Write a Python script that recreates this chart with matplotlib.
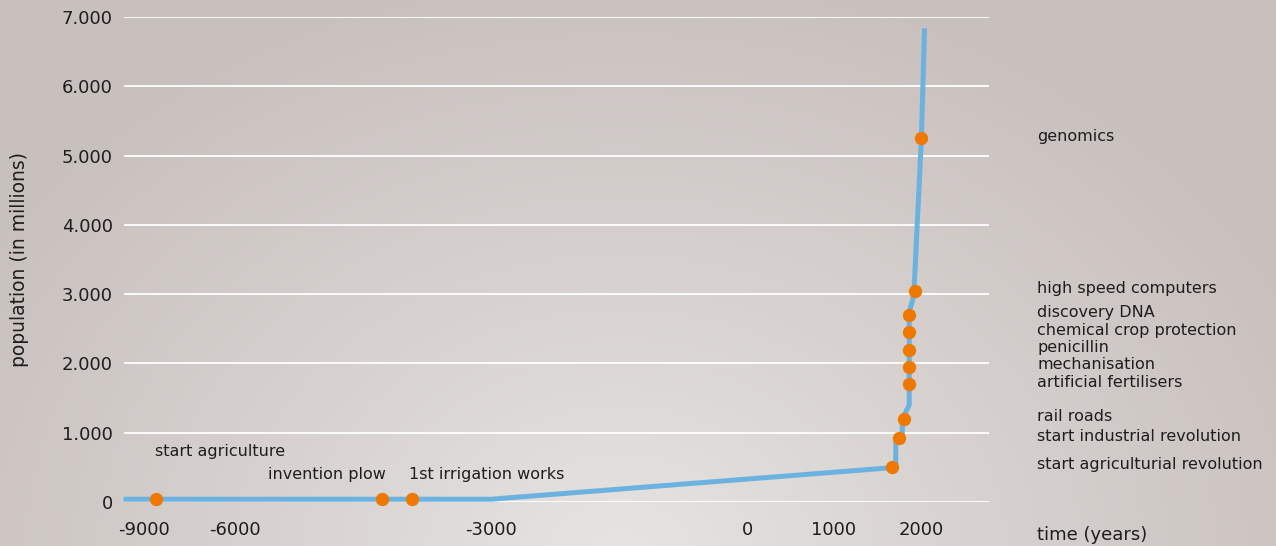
import numpy as np
import matplotlib
matplotlib.use("Agg")
import matplotlib.pyplot as plt
from matplotlib.ticker import FixedLocator, FuncFormatter
from matplotlib.transforms import blended_transform_factory

plt.rcParams["font.family"] = ["DejaVu Sans"]

# ---- data -------------------------------------------------------------
# world population curve (year, millions)
curve_years = [-9600, -3000, 1710, 1710, 1785, 1785, 1865, 1865, 1905, 1920, 2005, 2040]
curve_pop = [40, 40, 500, 920, 920, 1200, 1400, 2750, 2915, 3050, 5250, 6800]

# milestones (year, millions, label)
event_years = [-8600, -4270, -3920, 1670, 1745, 1810, 1865, 1865, 1865, 1865, 1865, 1930, 2005]
event_pop = [40, 40, 40, 505, 920, 1200, 1700, 1950, 2200, 2450, 2700, 3050, 5250]
event_labels = [
    "start agriculture", "invention plow", "1st irrigation works",
    "start agriculturial revolution", "start industrial revolution", "rail roads",
    "artificial fertilisers", "mechanisation", "penicillin",
    "chemical crop protection", "discovery DNA", "high speed computers", "genomics",
]

x_tick_years = [-9000, -6000, -3000, 0, 1000, 2000]
x_tick_labels = ["-9000", "-6000", "-3000", "0", "1000", "2000"]
y_ticks = [0, 1000, 2000, 3000, 4000, 5000, 6000, 7000]

# ---- compressed time axis (piecewise linear between tick years) -------
axis_spacing = np.array([0.0, 90.5, 347.0, 603.5, 690.0, 777.0])
axis_years = np.array(x_tick_years, dtype=float)


def _piecewise(v, src, dst):
    v = np.asarray(v, dtype=float)
    out = np.interp(v, src, dst)
    lo = v < src[0]
    hi = v > src[-1]
    out = np.where(lo, dst[0] + (v - src[0]) * (dst[1] - dst[0]) / (src[1] - src[0]), out)
    out = np.where(hi, dst[-1] + (v - src[-1]) * (dst[-1] - dst[-2]) / (src[-1] - src[-2]), out)
    return out


def fwd(v):
    return _piecewise(v, axis_years, axis_spacing)


def inv(v):
    return _piecewise(v, axis_spacing, axis_years)


# ---- figure -------------------------------------------------------------
W, H, DPI = 1276, 546, 100
fig = plt.figure(figsize=(W / DPI, H / DPI), dpi=DPI)

# soft radial background
bg = fig.add_axes([0, 0, 1, 1], zorder=0)
yy, xx = np.mgrid[0:H, 0:W]
d = np.sqrt(((xx - 620) / 760.0) ** 2 + ((yy - 560) / 600.0) ** 2)
t = np.clip(d, 0, 1) ** 0.9
inner = np.array([231, 229, 228]) / 255.0
outer = np.array([200, 192, 189]) / 255.0
img = inner[None, None, :] * (1 - t[..., None]) + outer[None, None, :] * t[..., None]
bg.imshow(img, aspect="auto", extent=[0, 1, 0, 1], origin="upper")
bg.axis("off")

ax = fig.add_axes([124 / W, 1 - 502 / H, (989 - 124) / W, (502 - 17) / H], zorder=1)
ax.patch.set_alpha(0)
ax.set_xscale("function", functions=(fwd, inv))
ax.set_xlim(-9666, 2782)
ax.set_ylim(0, 7000)

for s in ax.spines.values():
    s.set_visible(False)

ax.yaxis.set_major_locator(FixedLocator(y_ticks))
ax.yaxis.set_major_formatter(FuncFormatter(lambda v, p: f"{v:,.0f}".replace(",", ".")))
ax.xaxis.set_major_locator(FixedLocator(x_tick_years))
ax.set_xticklabels(x_tick_labels)
ax.xaxis.set_minor_locator(FixedLocator([]))
ax.tick_params(axis="both", length=0, labelsize=13, colors="#1e1e1e")
ax.tick_params(axis="y", pad=8)
ax.tick_params(axis="x", pad=14)
ax.grid(axis="y", color="white", linewidth=1.3)
ax.grid(axis="x", visible=False)
ax.set_axisbelow(True)

ax.set_ylabel("population (in millions)", fontsize=13.5, color="#1e1e1e", labelpad=24)

ax.plot(curve_years, curve_pop, color="#6cb2e1", linewidth=3.6,
        solid_joinstyle="round", clip_on=False, zorder=3)
ax.plot(event_years, event_pop, linestyle="none", marker="o", markersize=9.6,
        color="#ef7800", markeredgewidth=0, clip_on=False, zorder=4)

# labels of the early milestones, set above the curve
early_offsets = [(-0.7, 34.5, "left"), (2.2, 18.0, "right"), (-2.2, 18.0, "left")]
for i, (dx, dy, ha) in enumerate(early_offsets):
    ax.annotate(event_labels[i], xy=(event_years[i], event_pop[i]), xytext=(dx, dy),
                textcoords="offset points", ha=ha, va="center", fontsize=11.5,
                color="#1e1e1e")

# labels of the recent milestones, listed right of the plot
right = blended_transform_factory(ax.transAxes, ax.transData)
for i in range(3, len(event_labels)):
    ax.annotate(event_labels[i], xy=(1.0555, event_pop[i]), xycoords=right,
                xytext=(0, 1.5), textcoords="offset points",
                ha="left", va="center", fontsize=11.5, color="#1e1e1e",
                annotation_clip=False)

fig.text(1037 / W, 1 - 535 / H, "time (years)", ha="left", va="center",
         fontsize=13, color="#1e1e1e")

fig.savefig("out.png", dpi=DPI)
